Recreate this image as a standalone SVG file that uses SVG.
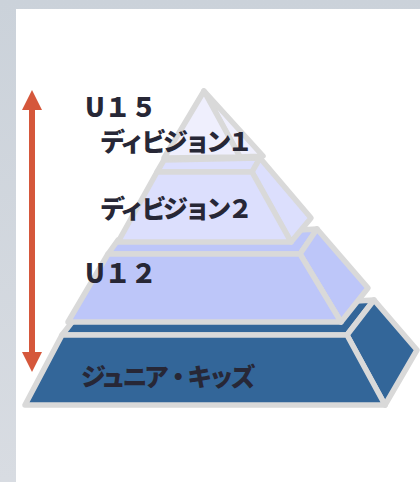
<svg xmlns="http://www.w3.org/2000/svg" width="420" height="482" viewBox="0 0 420 482">
<defs>
<linearGradient id="bg" x1="0" y1="0" x2="0" y2="1">
<stop offset="0" stop-color="#cbd2da"/>
<stop offset="1" stop-color="#d8dce2"/>
</linearGradient>
<style>
.f{stroke:#d9d9d9;stroke-width:5.5;stroke-linejoin:round}
.l1{fill:#efeffd}
.l2{fill:#dcdffd}
.l3{fill:#bdc6f9}
.l4{fill:#336699}
.t{font-family:"Noto Sans CJK JP","Noto Sans",sans-serif;font-weight:900;fill:#272736}
.k{font-size:25px;letter-spacing:-3.4px}
.u{font-size:26px}
.arr{fill:#d5573b}
</style>
</defs>
<rect width="420" height="482" fill="url(#bg)"/>
<rect x="16" y="9" width="404" height="473" fill="#ffffff"/>
<g id="range-arrow">
<rect class="arr" x="29" y="106" width="6" height="250"/>
<polygon class="arr" points="32,90 42,110 22,110"/>
<polygon class="arr" points="22,352 42,352 32,372"/>
</g>
<g id="layer-junior">
<polygon class="f l4" points="62,335 76,317 374,300 347,335"/>
<polygon class="f l4" points="347,335 374,300 417,350 385,405"/>
<polygon class="f l4" points="62,335 347,335 385,405 25,405"/>
<text class="t k" x="81" y="386">ジュニア・キッズ</text>
</g>
<g id="layer-u12">
<polygon class="f l3" points="108,254 118,240 317,229 300,254"/>
<polygon class="f l3" points="300,254 317,229 368,288 341,322"/>
<polygon class="f l3" points="108,254 300,254 341,322 68,322"/>
<text class="t u" x="85" y="283">U１２</text>
</g>
<g id="layer-div2">
<polygon class="f l2" points="157,172 164,160 260,158 252,172"/>
<polygon class="f l2" points="252,172 260,158 311,218 291,242"/>
<polygon class="f l2" points="157,172 252,172 291,242 118,242"/>
<text class="t k" x="100" y="218">ディビジョン２</text>
</g>
<g id="layer-div1">
<polygon class="f l1" points="204,91 263,156 240,157"/>
<polygon class="f l1" points="204,91 240,157 164,158"/>
<text class="t u" x="85" y="117">U１５</text>
<text class="t k" x="100" y="151">ディビジョン１</text>
</g>
</svg>
